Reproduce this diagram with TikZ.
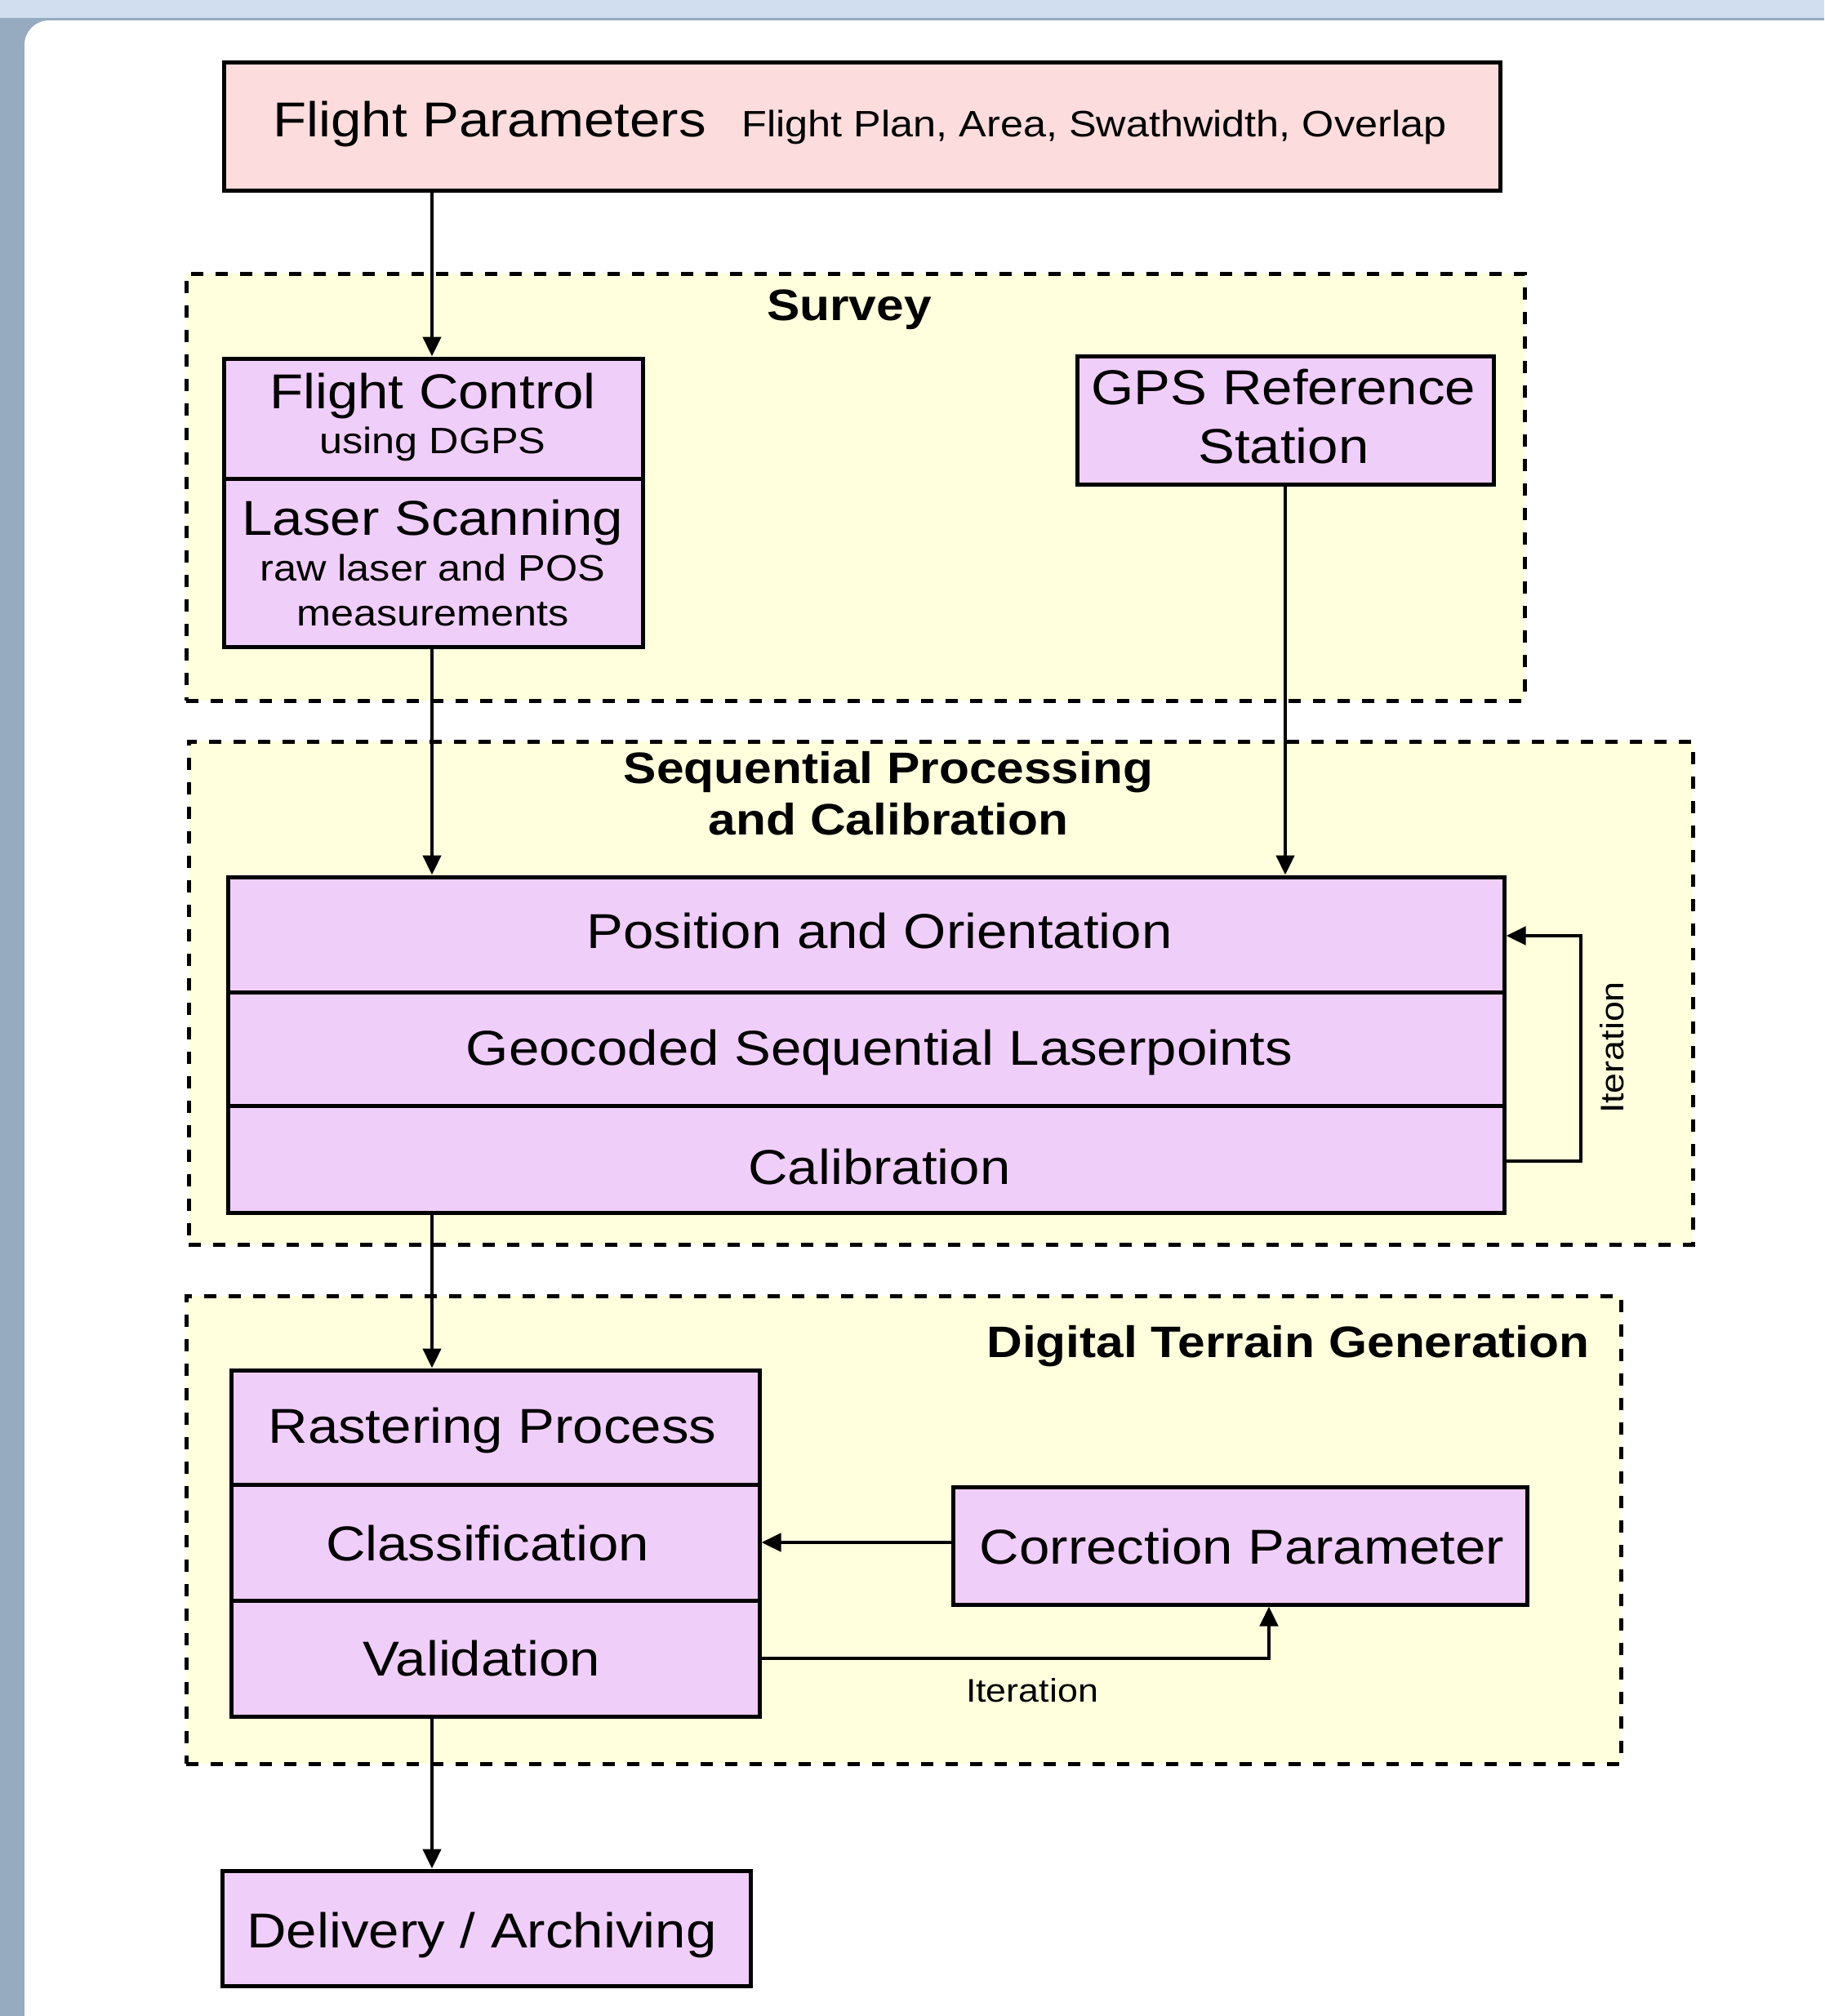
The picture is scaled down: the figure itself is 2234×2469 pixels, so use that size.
\documentclass[tikz,border=0pt]{standalone}
\usepackage{fontspec}
\setmainfont{Liberation Sans}[FakeStretch=1.12]
\usetikzlibrary{arrows.meta,fit}
\definecolor{pinkfill}{RGB}{252,220,220}
\definecolor{lilac}{RGB}{240,206,250}
\definecolor{groupfill}{RGB}{255,255,221}
\definecolor{bgtop}{RGB}{208,222,240}
\definecolor{bgside}{RGB}{150,170,192}
\begin{document}
\begin{tikzpicture}[x=0.5pt,y=-0.5pt,
  box/.style={draw=black, line width=2.5pt, fill=lilac, inner sep=0pt},
  grp/.style={draw=black, line width=2.5pt, dash pattern=on 7.5pt off 7.5pt, fill=groupfill, inner sep=0pt},
  big/.style={font=\fontsize{30}{36}\selectfont, inner sep=0pt},
  small/.style={font=\fontsize{22.5}{27}\selectfont, inner sep=0pt},
  ttl/.style={font=\bfseries\fontsize{27}{31.5}\selectfont, inner sep=0pt},
  itl/.style={font=\fontsize{20}{24}\selectfont, inner sep=0pt},
  arr/.style={line width=2.25pt, -{Triangle[length=12pt,width=11pt]}}]

\useasboundingbox (0,0) rectangle (2234,2469);
\fill[bgside] (0,0) rectangle (2234,2469);
\fill[bgtop] (0,0) rectangle (2234,22);
\fill[white, rounded corners=15pt] (30,25) rectangle (2300,2520);

% groups
\node[grp, fit={(228,335) (1867,858)}] (survey) {};
\node[ttl] (surveyT) at (1040,379) {Survey};
\node[grp, fit={(231,908) (2073,1524)}] (seq) {};
\node[ttl, align=center] (seqT) at (1088,972) {Sequential Processing\\and Calibration};
\node[grp, fit={(228,1587) (1985,2160)}] (dtg) {};
\node[ttl, anchor=east] (dtgT) at (1947,1649) {Digital Terrain Generation};

% flight parameters
\node[box, fill=pinkfill, fit={(274,76) (1837,233)}] (fp) {};
\node[inner sep=0pt, anchor=base west] (fpT) at (334,167) {\fontsize{30}{36}\selectfont Flight Parameters\hspace{22pt}\fontsize{22.5}{27}\selectfont Flight Plan, Area, Swathwidth, Overlap};

% survey boxes
\node[box, fit={(274,439) (787,586)}] (fc) {};
\node[big] (fcT) at (530,485) {Flight Control};
\node[small] (fcS) at (530,544) {using DGPS};
\node[box, fit={(274,586) (787,792)}] (ls) {};
\node[big] (lsT) at (530,640) {Laser Scanning};
\node[small] (lsS1) at (530,695) {raw laser and POS};
\node[small] (lsS2) at (530,752) {measurements};
\node[box, fit={(1319,436) (1829,593)}] (gps) {};
\node[big] (gpsT1) at (1572,474) {GPS Reference};
\node[big] (gpsT2) at (1572,546) {Station};

% sequential processing
\node[box, fit={(279,1074) (1842,1215)}] (po) {};
\node[big] (poT) at (1077,1140) {Position and Orientation};
\node[box, fit={(279,1215) (1842,1354)}] (geo) {};
\node[big] (geoT) at (1077,1289) {Geocoded Sequential Laserpoints};
\node[box, fit={(279,1354) (1842,1485)}] (cal) {};
\node[big] (calT) at (1077,1429) {Calibration};
\coordinate (it1) at (1936,1422);
\coordinate (it2) at (1936,1146);
\draw[arr] (cal.east |- it1) -- (it1) -- (it2) -- (po.east |- it2);
\node[itl, rotate=90] (itT1) at (1974,1283) {Iteration};

% digital terrain generation
\node[box, fit={(283,1678) (930,1818)}] (ra) {};
\node[big] (raT) at (603,1752) {Rastering Process};
\node[box, fit={(283,1818) (930,1960)}] (cl) {};
\node[big] (clT) at (597,1890) {Classification};
\node[box, fit={(283,1960) (930,2102)}] (va) {};
\node[big] (vaT) at (590,2031) {Validation};
\node[box, fit={(1167,1821) (1870,1965)}] (cp) {};
\node[big] (cpT) at (1521,1894) {Correction Parameter};
\coordinate (cpx) at (0,1889);
\draw[arr] (cp.west |- cpx) -- (cl.east |- cpx);
\coordinate (it3) at (1554,2031);
\draw[arr] (va.east |- it3) -- (it3) -- (cp.south -| it3);
\node[itl] (itT2) at (1264,2070) {Iteration};

% delivery
\node[box, fit={(272,2291) (919,2432)}] (del) {};
\node[big] (delT) at (590,2370) {Delivery / Archiving};

% vertical arrows
\coordinate (vx) at (529,0);
\draw[arr] (fp.south -| vx) -- (fc.north -| vx);
\draw[arr] (ls.south -| vx) -- (po.north -| vx);
\draw[arr] (gps.south) -- (po.north -| gps.south);
\draw[arr] (cal.south -| vx) -- (ra.north -| vx);
\draw[arr] (va.south -| vx) -- (del.north -| vx);
\end{tikzpicture}
\end{document}
